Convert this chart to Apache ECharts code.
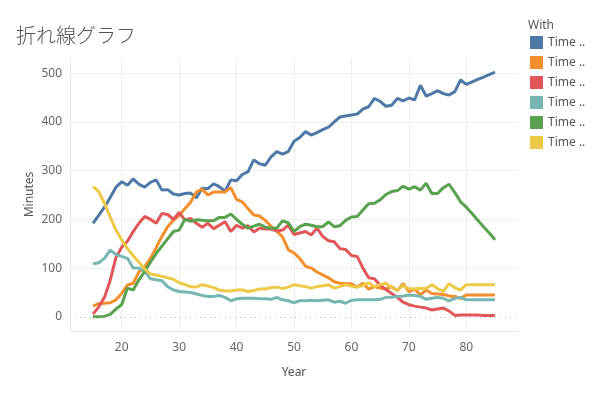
<!DOCTYPE html>
<html>
<head>
<meta charset="utf-8">
<style>
  html, body { margin: 0; padding: 0; background: #fff; }
  #chart { width: 599px; height: 399px; }
</style>
<script src="https://cdn.jsdelivr.net/npm/echarts/dist/echarts.min.js"></script>
</head>
<body>
<div id="chart"></div>
<script>
// years 15..85
const years = [15,16,17,18,19,20,21,22,23,24,25,26,27,28,29,30,31,32,33,34,35,36,37,38,39,40,
  41,42,43,44,45,46,47,48,49,50,51,52,53,54,55,56,57,58,59,60,61,62,63,64,65,66,67,68,69,70,
  71,72,73,74,75,76,77,78,79,80,81,82,83,84,85]

const seriesNames = ['Time 1', 'Time 2', 'Time 3', 'Time 4', 'Time 5', 'Time 6']

const time1 = [192,208,225,245,266,277,270,283,272,266,276,281,260,261,252,250,253,254,244,264,263,273,267,258,281,279,
  292,298,322,314,311,328,339,334,339,360,368,380,373,378,384,389,400,410,412,414,416,426,431,448,442,432,434,448,443,449,
  445,475,453,458,464,458,455,462,486,477,482,487,492,497,502]
const time2 = [22,27,28,29,35,48,65,69,92,102,120,142,165,185,198,208,222,235,256,262,250,256,256,256,265,241,
  236,222,209,207,198,186,176,164,138,131,120,104,100,92,86,80,72,69,68,68,61,69,57,62,59,57,62,54,68,52,
  57,45,55,48,47,46,43,42,38,45,45,45,45,45,45]
const time3 = [6,20,40,75,122,143,155,175,192,206,200,192,212,210,200,214,199,202,192,184,192,181,188,195,175,188,
  182,187,174,182,180,180,176,178,188,169,172,175,168,182,165,156,154,140,138,126,124,100,80,78,65,56,48,40,30,25,
  22,20,18,14,16,18,12,3,4,4,4,4,3,3,3]
const time4 = [109,111,120,137,128,124,120,100,100,94,78,76,74,62,55,52,51,50,47,44,42,42,44,40,33,37,
  38,38,38,37,37,36,40,35,33,29,33,33,34,33,34,35,30,32,28,34,35,35,35,35,36,40,40,42,43,45,
  44,42,36,38,40,38,33,38,40,35,35,35,35,35,35]
const time5 = [0,0,1,5,16,25,59,55,76,93,112,130,145,160,175,178,200,196,199,198,197,197,204,204,211,200,
  190,182,186,190,184,182,182,197,193,175,185,190,188,185,185,195,185,187,198,205,206,219,232,233,240,251,257,259,268,262,
  267,260,274,253,253,265,272,255,236,225,212,198,185,172,158]
const time6 = [267,257,233,205,178,158,140,126,112,98,88,86,83,80,77,70,66,62,61,66,63,60,55,53,53,55,
  55,52,54,57,57,60,61,58,61,66,64,62,59,62,64,66,59,62,66,63,61,64,70,62,66,69,60,55,64,58,
  57,58,58,66,58,52,68,60,55,66,66,66,66,66,66]

const colors = ['#4e79a7', '#f28e2b', '#e15759', '#76b7b2', '#59a14f', '#edc948']
const allValues = [time1, time2, time3, time4, time5, time6]

const chartInstance = echarts.init(document.getElementById('chart'), null, { renderer: 'canvas' })

const fontFamily = "'Noto Sans', 'Noto Sans CJK JP', sans-serif"

const series = allValues.map((vals, i) => {
  const s = {
    name: seriesNames[i],
    type: 'line',
    showSymbol: false,
    symbol: 'none',
    data: years.map((y, k) => [y, vals[k]]),
    lineStyle: { width: 3, color: colors[i] },
    itemStyle: { color: colors[i] }
  }
  if (i === 0) {
    // dotted zero line
    s.markLine = {
      silent: true,
      symbol: 'none',
      label: { show: false },
      lineStyle: { type: [1, 4], color: '#bbbbbb', width: 1 },
      data: [{ yAxis: 0 }]
    }
  }
  return s
})

const option = {
  animation: false,
  color: colors,
  textStyle: { fontFamily },
  title: [
    {
      text: '折れ線グラフ',
      left: 11,
      top: 20,
      textStyle: { fontSize: 20, fontWeight: 300, color: '#555', fontFamily: "'Noto Sans CJK JP', sans-serif" }
    },
    {
      text: 'With',
      left: 523,
      top: 15,
      textStyle: { fontSize: 12, fontWeight: 'normal', color: '#555', fontFamily }
    }
  ],
  legend: {
    orient: 'vertical',
    left: 525,
    top: 31,
    icon: 'rect',
    itemWidth: 13,
    itemHeight: 13,
    itemGap: 7,
    data: seriesNames,
    formatter: () => 'Time ..',
    textStyle: { fontSize: 12, color: '#555', fontFamily }
  },
  grid: { left: 70, right: 81, top: 58, bottom: 68, containLabel: false },
  xAxis: {
    type: 'value',
    min: 11,
    max: 89,
    splitNumber: 8,
    name: 'Year',
    nameLocation: 'middle',
    nameGap: 36,
    nameMoveOverlap: false,
    nameTextStyle: { fontSize: 12, color: '#555', fontFamily },
    axisLine: { show: false },
    axisTick: { show: false },
    axisLabel: { showMinLabel: false, showMaxLabel: false, color: '#666', fontSize: 12, margin: 11, fontFamily },
    splitLine: {
      show: true,
      lineStyle: { color: ['#e6e6e6', '#eeeeee', '#eeeeee', '#eeeeee', '#eeeeee', '#eeeeee', '#eeeeee', '#eeeeee', 'rgba(0,0,0,0)'], width: 1 }
    }
  },
  yAxis: {
    type: 'value',
    min: -29,
    max: 531,
    splitNumber: 5,
    name: 'Minutes',
    nameLocation: 'middle',
    nameGap: 34,
    nameMoveOverlap: false,
    nameTextStyle: { fontSize: 12, color: '#555', fontFamily },
    axisLine: { show: false },
    axisTick: { show: false },
    axisLabel: { showMinLabel: false, showMaxLabel: false, color: '#666', fontSize: 12, margin: 8, fontFamily },
    splitLine: {
      show: true,
      lineStyle: { color: ['#e6e6e6', 'rgba(0,0,0,0)', '#eeeeee', '#eeeeee', '#eeeeee', '#eeeeee', '#eeeeee', 'rgba(0,0,0,0)'], width: 1 }
    }
  },
  series
}

chartInstance.setOption(option)
</script>
</body>
</html>
